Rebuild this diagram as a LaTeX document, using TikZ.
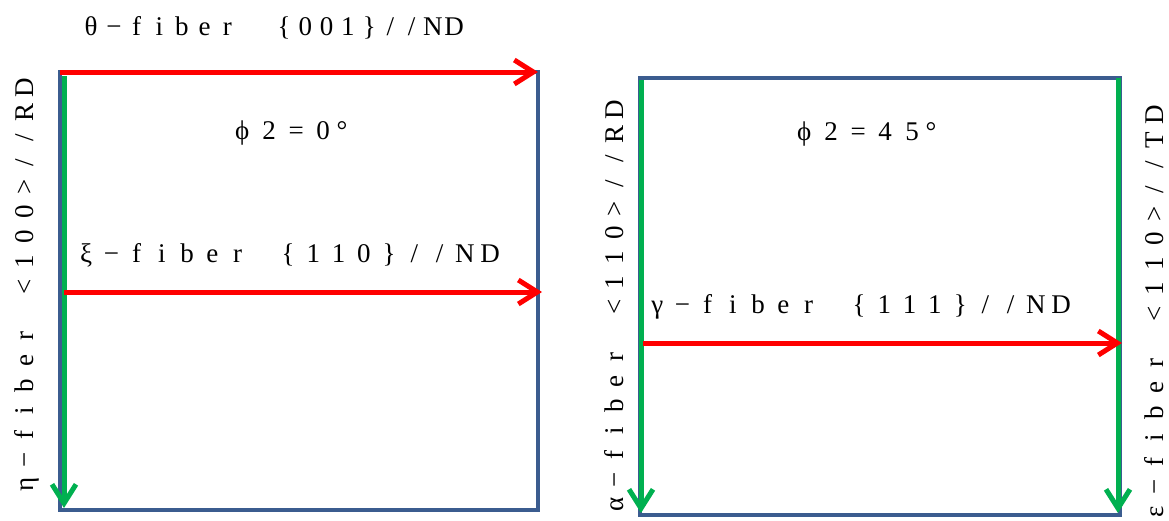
\documentclass[tikz,border=0pt]{standalone}
\usepackage{fontspec}
\setmainfont{Liberation Serif}
\usetikzlibrary{arrows.meta}
\definecolor{frameblue}{HTML}{3B5C8F}
\definecolor{fibred}{HTML}{FF0000}
\definecolor{fibgreen}{HTML}{00B050}
\makeatletter
\newcommand\spreadchars[2]{\@tfor\spr@tok:=#2\do{\makebox[#1][c]{\spr@tok}}}
\makeatother
\tikzset{
  frame/.style={draw=frameblue,line width=4pt},
  redfib/.style={draw=fibred,line width=5pt,-{Straight Barb[length=19pt,width=24pt]}},
  greenfib/.style={draw=fibgreen,line width=5pt,-{Straight Barb[length=19pt,width=24pt]}},
  lbl/.style={inner sep=0pt,anchor=base west,text=black,font=\fontsize{27pt}{27pt}\selectfont},
}
\begin{document}
\begin{tikzpicture}[x=1pt,y=-1pt]
\useasboundingbox[fill=white] (0,0) rectangle (1169,520);
% left box corners
\coordinate (LA) at (60,72);
\coordinate (LB) at (538,72);
\coordinate (LC) at (538,510);
\coordinate (LD) at (60,510);
\coordinate (LGs) at (64,76);
\coordinate (LGe) at (64,508);
\coordinate (XIs) at (64,292);
\coordinate (XIe) at (542,292);
% right box corners
\coordinate (RA) at (640,78);
\coordinate (RB) at (1120,78);
\coordinate (RC) at (1120,515);
\coordinate (RD) at (640,515);
\coordinate (RGs) at (641,80);
\coordinate (RGe) at (641,513);
\coordinate (RHs) at (1118,78);
\coordinate (RHe) at (1118,513);
\coordinate (GAs) at (643,343);
\coordinate (GAe) at (1122,343);

\draw[frame] (LA) -- (LB) -- (LC) -- (LD) -- cycle;
\draw[frame] (RA) -- (RB) -- (RC) -- (RD) -- cycle;

\draw[redfib] (LA) -- (LB);
\draw[greenfib] (LGs) -- (LGe);
\draw[redfib] (XIs) -- (XIe);

\draw[greenfib] (RGs) -- (RGe);
\draw[greenfib] (RHs) -- (RHe);
\draw[redfib] (GAs) -- (GAe);

\node[lbl] (theta) at (79.65,35) {\spreadchars{22.7pt}{θ−fiber}\hspace{34.85pt}\spreadchars{21.25pt}{\{001\}//ND}};
\node[lbl] (phi0) at (228.5,139) {\spreadchars{27pt}{ϕ2=0}°};
\node[lbl] (xi) at (73.4,262) {\spreadchars{25.25pt}{ξ−fiber~\{110\}//ND}};
\node[lbl,rotate=90] (eta) at (33,497.4) {\spreadchars{24.8pt}{η−fiber~<100>//RD}};

\node[lbl] (phi45) at (790.5,140) {\spreadchars{27pt}{ϕ2=45}°};
\node[lbl] (gamma) at (644.4,313) {\spreadchars{25.25pt}{γ−fiber~\{111\}//ND}};
\node[lbl,rotate=90] (alpha) at (623,517.4) {\spreadchars{24.7pt}{α−fiber~<110>//RD}};
\node[lbl,rotate=90] (eps) at (1163,524.4) {\spreadchars{24.8pt}{ε−fiber~<110>//TD}};
\end{tikzpicture}
\end{document}
